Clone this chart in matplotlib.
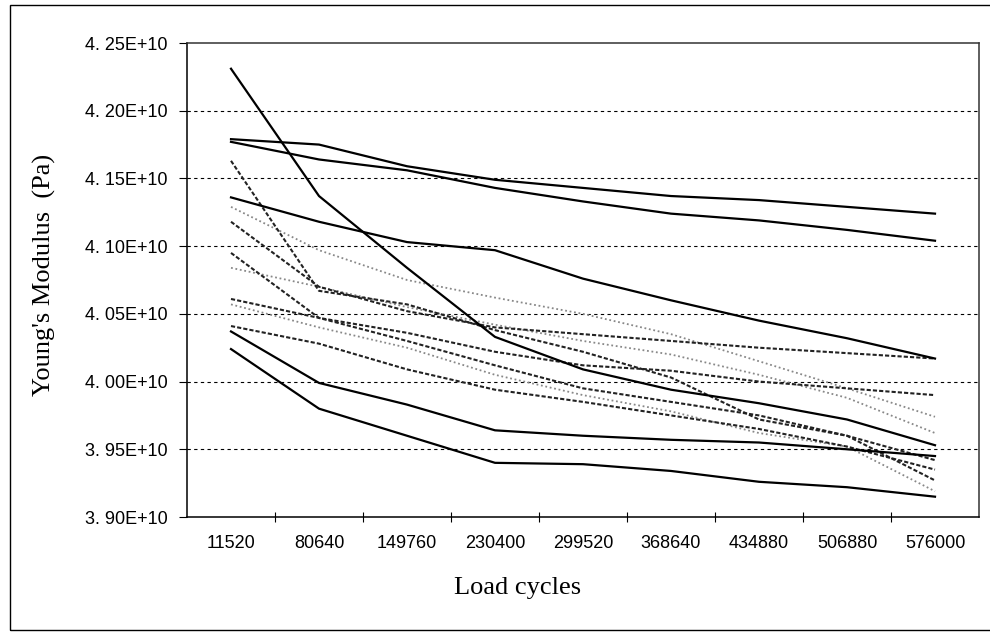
import numpy as np
import matplotlib
matplotlib.use('Agg')
from matplotlib import pyplot as plt
from matplotlib.patches import Rectangle
from matplotlib.ticker import FixedLocator, FuncFormatter

cycles = ["11520", "80640", "149760", "230400", "299520", "368640", "434880", "506880", "576000"]

# Young's modulus, units of 1E10 Pa
# solid black curves
solid_1 = [4.231, 4.137, 4.084, 4.033, 4.009, 3.994, 3.984, 3.972, 3.953]
solid_2 = [4.179, 4.175, 4.159, 4.149, 4.143, 4.137, 4.134, 4.129, 4.124]
solid_3 = [4.177, 4.164, 4.156, 4.143, 4.133, 4.124, 4.119, 4.112, 4.104]
solid_4 = [4.136, 4.118, 4.103, 4.097, 4.076, 4.060, 4.045, 4.032, 4.017]
solid_5 = [4.037, 3.999, 3.983, 3.964, 3.960, 3.957, 3.955, 3.950, 3.945]
solid_6 = [4.024, 3.980, 3.960, 3.940, 3.939, 3.934, 3.926, 3.922, 3.915]
# dark dashed curves
dash_1 = [4.163, 4.067, 4.057, 4.038, 4.022, 4.003, 3.972, 3.960, 3.942]
dash_2 = [4.118, 4.070, 4.052, 4.040, 4.035, 4.030, 4.025, 4.021, 4.017]
dash_3 = [4.095, 4.047, 4.036, 4.022, 4.012, 4.008, 4.000, 3.995, 3.990]
dash_4 = [4.041, 4.028, 4.009, 3.994, 3.985, 3.975, 3.965, 3.952, 3.935]
dash_5 = [4.061, 4.047, 4.030, 4.012, 3.995, 3.985, 3.975, 3.960, 3.927]
# grey dotted curves
dot_1 = [4.129, 4.097, 4.075, 4.062, 4.050, 4.035, 4.015, 3.995, 3.974]
dot_2 = [4.084, 4.070, 4.055, 4.042, 4.030, 4.020, 4.005, 3.988, 3.962]
dot_3 = [4.057, 4.040, 4.025, 4.005, 3.990, 3.978, 3.962, 3.952, 3.919]

y_ticks = [3.90, 3.95, 4.00, 4.05, 4.10, 4.15, 4.20, 4.25]

fig = plt.figure(figsize=(9.9, 6.34), dpi=100)
ax = fig.add_axes([187/990, 117/634, 792/990, 474/634])

xx = np.arange(len(cycles))

for yy in [dot_1, dot_2, dot_3]:
	ax.plot(xx, np.array(yy)*1e10, color='#888888', lw=1.3, ls=(0, (1, 1.5)), zorder=2)
for yy in [dash_1, dash_2, dash_3, dash_4, dash_5]:
	ax.plot(xx, np.array(yy)*1e10, color='#222222', lw=1.5, ls=(0, (2, 1)), zorder=3)
for yy in [solid_1, solid_2, solid_3, solid_4, solid_5, solid_6]:
	ax.plot(xx, np.array(yy)*1e10, color='black', lw=1.6, zorder=4)

ax.set_xlim(-0.5, len(cycles) - 0.5)
ax.set_ylim(3.90e10, 4.25e10)

ax.set_yticks([v*1e10 for v in y_ticks])
ax.yaxis.set_major_formatter(FuncFormatter(lambda v, p: f"{v/1e10:.2f}".replace('.', '. ') + "E+10"))
for v in y_ticks[1:-1]:
	ax.axhline(v*1e10, color='black', lw=0.8, ls=(0, (3, 3)), zorder=1)

ax.set_xticks(xx)
ax.set_xticklabels(cycles)
ax.xaxis.set_minor_locator(FixedLocator(xx[:-1] + 0.5))
ax.tick_params(axis='x', which='major', length=0, pad=13)
ax.tick_params(axis='x', which='minor', length=7, direction='inout', width=0.8)
ax.tick_params(axis='y', length=6, direction='out', width=0.8, pad=8)

for lab in ax.get_xticklabels() + ax.get_yticklabels():
	lab.set_family('Liberation Sans')
	lab.set_fontsize(13)

for side in ['top', 'right']:
	ax.spines[side].set_linestyle((0, (1, 1)))
	ax.spines[side].set_color('#333333')
	ax.spines[side].set_linewidth(1.1)
for side in ['left', 'bottom']:
	ax.spines[side].set_color('black')
	ax.spines[side].set_linewidth(1.1)

ax.set_ylabel("Young's Modulus  (Pa)", family='Liberation Serif', fontsize=19)
ax.yaxis.set_label_coords(-0.165, 0.51)
ax.set_xlabel("Load cycles", family='Liberation Serif', fontsize=19)
ax.xaxis.set_label_coords(0.417, -0.127)

fig.patches.append(Rectangle((10/990, 4/634), 1.0, 625/634, transform=fig.transFigure,
	fill=False, edgecolor='black', lw=1.0))

fig.savefig('out.png', dpi=100)
